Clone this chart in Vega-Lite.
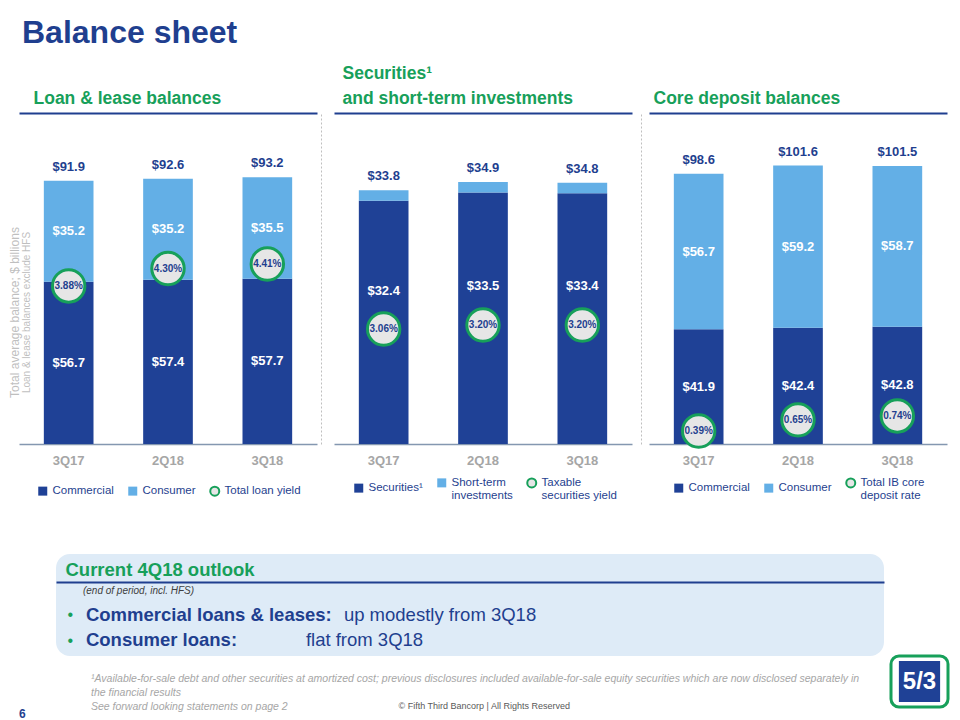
{
"$schema": "https://vega.github.io/schema/vega-lite/v6.json",
"background": "white",
"padding": {"left": 8, "top": 17, "right": 5, "bottom": 0},
"title": {"text": "Balance sheet", "anchor": "start", "fontSize": 32, "fontWeight": "bold", "color": "#1F3F8F", "offset": 14, "dx": 14, "font": "Liberation Sans"},
"config": {"font": "Liberation Sans", "view": {"stroke": null}, "axis": {"grid": false}},
"datasets": {
"loans": [
{"quarter": "3Q17", "segment": "Commercial", "ord": 1, "value": 56.7},
{"quarter": "3Q17", "segment": "Consumer", "ord": 2, "value": 35.2},
{"quarter": "2Q18", "segment": "Commercial", "ord": 1, "value": 57.4},
{"quarter": "2Q18", "segment": "Consumer", "ord": 2, "value": 35.2},
{"quarter": "3Q18", "segment": "Commercial", "ord": 1, "value": 57.7},
{"quarter": "3Q18", "segment": "Consumer", "ord": 2, "value": 35.5}
],
"loanYield": [
{"quarter": "3Q17", "series": "Total loan yield", "yield": 0.0388},
{"quarter": "2Q18", "series": "Total loan yield", "yield": 0.0430},
{"quarter": "3Q18", "series": "Total loan yield", "yield": 0.0441}
],
"secs": [
{"quarter": "3Q17", "segment": "Securities¹", "ord": 1, "value": 32.4},
{"quarter": "3Q17", "segment": "Short-term investments", "ord": 2, "value": 1.4},
{"quarter": "2Q18", "segment": "Securities¹", "ord": 1, "value": 33.5},
{"quarter": "2Q18", "segment": "Short-term investments", "ord": 2, "value": 1.4},
{"quarter": "3Q18", "segment": "Securities¹", "ord": 1, "value": 33.4},
{"quarter": "3Q18", "segment": "Short-term investments", "ord": 2, "value": 1.4}
],
"secYield": [
{"quarter": "3Q17", "series": "Taxable securities yield", "yield": 0.0306},
{"quarter": "2Q18", "series": "Taxable securities yield", "yield": 0.0320},
{"quarter": "3Q18", "series": "Taxable securities yield", "yield": 0.0320}
],
"deps": [
{"quarter": "3Q17", "segment": "Commercial", "ord": 1, "value": 41.9},
{"quarter": "3Q17", "segment": "Consumer", "ord": 2, "value": 56.7},
{"quarter": "2Q18", "segment": "Commercial", "ord": 1, "value": 42.4},
{"quarter": "2Q18", "segment": "Consumer", "ord": 2, "value": 59.2},
{"quarter": "3Q18", "segment": "Commercial", "ord": 1, "value": 42.8},
{"quarter": "3Q18", "segment": "Consumer", "ord": 2, "value": 58.7}
],
"depRate": [
{"quarter": "3Q17", "series": "Total IB core deposit rate", "yield": 0.0039},
{"quarter": "2Q18", "series": "Total IB core deposit rate", "yield": 0.0065},
{"quarter": "3Q18", "series": "Total IB core deposit rate", "yield": 0.0074}
],
"outlook": [
{"line": "sub", "part": "key", "text": "(end of period, incl. HFS)"},
{"line": "b1", "part": "key", "text": "Commercial loans & leases:"},
{"line": "b1", "part": "value", "text": "up modestly from 3Q18"},
{"line": "b2", "part": "key", "text": "Consumer loans:"},
{"line": "b2", "part": "value", "text": "flat from 3Q18"}
]
},
"vconcat": [
{
"hconcat": [
{
"width": 298, "height": 331,
"resolve": {"scale": {"y": "independent"}, "axis": {"x": "independent", "y": "independent"}},
"layer": [
{
"data": {"name": "loans"},
"encoding": {
"x": {"field": "quarter", "type": "nominal", "sort": ["3Q17", "2Q18", "3Q18"], "scale": {"type": "band", "paddingInner": 0.5, "paddingOuter": 0.25},
"axis": {"orient": "bottom", "title": null, "labelAngle": 0, "labelFontSize": 13, "labelFontWeight": "bold", "labelColor": "#A6A6A6", "labelPadding": 10, "ticks": false, "domain": true, "domainColor": "#8497B0", "domainWidth": 1.5}},
"y": {"field": "value", "type": "quantitative", "stack": "zero", "scale": {"domain": [0, 115.6], "nice": false},
"axis": {"title": "Loan & lease balances exclude HFS", "titleFontSize": 10, "titleFontWeight": "normal", "titleColor": "#BFBFBF", "titleX": 12, "titleY": 199, "labels": false, "ticks": false, "domain": false}},
"order": {"field": "ord", "type": "quantitative"},
"detail": {"field": "segment", "type": "nominal"}
},
"layer": [
{"mark": {"type": "bar"},
"encoding": {"color": {"field": "segment", "type": "nominal",
"scale": {"domain": ["Commercial", "Consumer", "Total loan yield"], "range": ["#1F4196", "#63AFE6", "#E6E6E6"]},
"legend": {"orient": "none", "legendX": 18, "legendY": 372, "direction": "horizontal", "title": null, "labelFontSize": 11.5, "labelColor": "#1F3F8F", "symbolSize": 81, "columnPadding": 10, "labelOffset": 4, "symbolStrokeWidth": 2,
"encode": {"symbols": {"update": {"shape": {"signal": "datum.value == 'Total loan yield' ? 'circle' : 'square'"}, "stroke": {"signal": "datum.value == 'Total loan yield' ? '#17A05A' : 'transparent'"}}}}}}}},
{"mark": {"type": "text", "color": "white", "fontSize": 13, "fontWeight": "bold"},
"encoding": {
"y": {"field": "value", "type": "quantitative", "stack": "zero", "bandPosition": 0.5, "scale": {"domain": [0, 115.6], "nice": false},
"axis": {"title": "Loan & lease balances exclude HFS", "titleFontSize": 10, "titleFontWeight": "normal", "titleColor": "#BFBFBF", "titleX": 12, "titleY": 199, "labels": false, "ticks": false, "domain": false}},
"text": {"field": "value", "type": "quantitative", "format": "$.1f"}}}
]
},
{
"data": {"name": "loanYield"},
"encoding": {
"x": {"field": "quarter", "type": "nominal", "sort": ["3Q17", "2Q18", "3Q18"], "scale": {"type": "band", "paddingInner": 0.5, "paddingOuter": 0.25},
"axis": {"orient": "top", "labels": false, "ticks": false, "domain": true, "domainColor": "#1F3F8F", "domainWidth": 2, "title": "Loan & lease balances", "titleFontSize": 17.5, "titleFontWeight": "bold", "titleColor": "#17A05A", "titleAnchor": "start", "titleAlign": "left", "titleX": 14, "titlePadding": 6}},
"y": {"field": "yield", "type": "quantitative", "scale": {"domain": [0.0007, 0.0805], "nice": false, "zero": false},
"axis": {"orient": "right", "labels": false, "ticks": false, "title": null, "domain": true, "domainColor": "#BFBFBF", "domainDash": [2, 2], "domainWidth": 1, "offset": 4}}
},
"layer": [
{"mark": {"type": "point", "filled": true, "size": 1050, "stroke": "#17A05A", "strokeWidth": 3, "opacity": 1}, "encoding": {"color": {"field": "series", "type": "nominal"}}},
{"mark": {"type": "text", "color": "#1F3F8F", "fontSize": 10, "fontWeight": "bold"}, "encoding": {"text": {"field": "yield", "type": "quantitative", "format": ".2%"}}}
]
},
{
"data": {"name": "loans"},
"mark": {"type": "text", "color": "#1F3F8F", "fontSize": 13, "fontWeight": "bold", "baseline": "bottom", "dy": -7},
"encoding": {
"x": {"field": "quarter", "type": "nominal", "sort": ["3Q17", "2Q18", "3Q18"], "scale": {"type": "band", "paddingInner": 0.5, "paddingOuter": 0.25}, "axis": null},
"y": {"aggregate": "sum", "field": "value", "type": "quantitative", "scale": {"domain": [0, 115.6], "nice": false},
"axis": {"title": "Total average balance; $ billions", "titleFontSize": 12, "titleFontWeight": "normal", "titleColor": "#BFBFBF", "titleX": 2, "titleY": 199, "labels": false, "ticks": false, "domain": false}},
"text": {"aggregate": "sum", "field": "value", "type": "quantitative", "format": "$.1f"}
}
}
]
},
{
"width": 298, "height": 331,
"resolve": {"scale": {"y": "independent"}, "axis": {"x": "independent", "y": "independent"}},
"layer": [
{
"data": {"name": "secs"},
"encoding": {
"x": {"field": "quarter", "type": "nominal", "sort": ["3Q17", "2Q18", "3Q18"], "scale": {"type": "band", "paddingInner": 0.5, "paddingOuter": 0.25},
"axis": {"orient": "bottom", "title": null, "labelAngle": 0, "labelFontSize": 13, "labelFontWeight": "bold", "labelColor": "#A6A6A6", "labelPadding": 10, "ticks": false, "domain": true, "domainColor": "#8497B0", "domainWidth": 1.5}},
"y": {"field": "value", "type": "quantitative", "stack": "zero", "scale": {"domain": [0, 44.1], "nice": false}, "axis": null},
"order": {"field": "ord", "type": "quantitative"},
"detail": {"field": "segment", "type": "nominal"}
},
"layer": [
{"mark": {"type": "bar"},
"encoding": {"color": {"field": "segment", "type": "nominal",
"scale": {"domain": ["Securities¹", "Short-term investments", "Taxable securities yield"], "range": ["#1F4196", "#63AFE6", "#E6E6E6"]},
"legend": {"orient": "none", "legendX": 19, "legendY": 364, "direction": "horizontal", "title": null, "labelFontSize": 11.5, "labelColor": "#1F3F8F", "symbolSize": 81, "columnPadding": 10, "labelOffset": 4, "symbolStrokeWidth": 2,
"labelExpr": "datum.label == 'Short-term investments' ? ['Short-term', 'investments'] : datum.label == 'Taxable securities yield' ? ['Taxable', 'securities yield'] : datum.label",
"encode": {"symbols": {"update": {"shape": {"signal": "datum.value == 'Taxable securities yield' ? 'circle' : 'square'"}, "stroke": {"signal": "datum.value == 'Taxable securities yield' ? '#17A05A' : 'transparent'"}}}}}}}},
{"transform": [{"filter": "datum.ord == 1"}],
"mark": {"type": "text", "color": "white", "fontSize": 13, "fontWeight": "bold"},
"encoding": {
"y": {"field": "value", "type": "quantitative", "stack": "zero", "bandPosition": 0.63, "scale": {"domain": [0, 44.1], "nice": false}, "axis": null},
"text": {"field": "value", "type": "quantitative", "format": "$.1f"}}}
]
},
{
"data": {"name": "secYield"},
"encoding": {
"x": {"field": "quarter", "type": "nominal", "sort": ["3Q17", "2Q18", "3Q18"], "scale": {"type": "band", "paddingInner": 0.5, "paddingOuter": 0.25},
"axis": {"orient": "top", "labels": false, "ticks": false, "domain": true, "domainColor": "#1F3F8F", "domainWidth": 2, "title": ["Securities¹", "and short-term investments"], "titleFontSize": 17.5, "titleFontWeight": "bold", "titleColor": "#17A05A", "titleAnchor": "start", "titleAlign": "left", "titleX": 8, "titlePadding": 6, "titleLineHeight": 25}},
"y": {"field": "yield", "type": "quantitative", "scale": {"domain": [-0.0096, 0.1061], "nice": false, "zero": false},
"axis": {"orient": "right", "labels": false, "ticks": false, "title": null, "domain": true, "domainColor": "#BFBFBF", "domainDash": [2, 2], "domainWidth": 1, "offset": 9}}
},
"layer": [
{"mark": {"type": "point", "filled": true, "size": 1050, "stroke": "#17A05A", "strokeWidth": 3, "opacity": 1}, "encoding": {"color": {"field": "series", "type": "nominal"}}},
{"mark": {"type": "text", "color": "#1F3F8F", "fontSize": 10, "fontWeight": "bold"}, "encoding": {"text": {"field": "yield", "type": "quantitative", "format": ".2%"}}}
]
},
{
"data": {"name": "secs"},
"mark": {"type": "text", "color": "#1F3F8F", "fontSize": 13, "fontWeight": "bold", "baseline": "bottom", "dy": -7},
"encoding": {
"x": {"field": "quarter", "type": "nominal", "sort": ["3Q17", "2Q18", "3Q18"], "scale": {"type": "band", "paddingInner": 0.5, "paddingOuter": 0.25}, "axis": null},
"y": {"aggregate": "sum", "field": "value", "type": "quantitative", "scale": {"domain": [0, 44.1], "nice": false}, "axis": null},
"text": {"aggregate": "sum", "field": "value", "type": "quantitative", "format": "$.1f"}
}
}
]
},
{
"width": 298, "height": 331,
"resolve": {"scale": {"y": "independent"}, "axis": {"x": "independent", "y": "independent"}},
"layer": [
{
"data": {"name": "deps"},
"encoding": {
"x": {"field": "quarter", "type": "nominal", "sort": ["3Q17", "2Q18", "3Q18"], "scale": {"type": "band", "paddingInner": 0.5, "paddingOuter": 0.25},
"axis": {"orient": "bottom", "title": null, "labelAngle": 0, "labelFontSize": 13, "labelFontWeight": "bold", "labelColor": "#A6A6A6", "labelPadding": 10, "ticks": false, "domain": true, "domainColor": "#8497B0", "domainWidth": 1.5}},
"y": {"field": "value", "type": "quantitative", "stack": "zero", "scale": {"domain": [0, 120.8], "nice": false}, "axis": null},
"order": {"field": "ord", "type": "quantitative"},
"detail": {"field": "segment", "type": "nominal"}
},
"layer": [
{"mark": {"type": "bar"},
"encoding": {"color": {"field": "segment", "type": "nominal",
"scale": {"domain": ["Commercial", "Consumer", "Total IB core deposit rate"], "range": ["#1F4196", "#63AFE6", "#E6E6E6"]},
"legend": {"orient": "none", "legendX": 24, "legendY": 364, "direction": "horizontal", "title": null, "labelFontSize": 11.5, "labelColor": "#1F3F8F", "symbolSize": 81, "columnPadding": 10, "labelOffset": 4, "symbolStrokeWidth": 2,
"labelExpr": "datum.label == 'Total IB core deposit rate' ? ['Total IB core', 'deposit rate'] : datum.label",
"encode": {"symbols": {"update": {"shape": {"signal": "datum.value == 'Total IB core deposit rate' ? 'circle' : 'square'"}, "stroke": {"signal": "datum.value == 'Total IB core deposit rate' ? '#17A05A' : 'transparent'"}}}}}}}},
{"mark": {"type": "text", "color": "white", "fontSize": 13, "fontWeight": "bold"},
"encoding": {
"y": {"field": "value", "type": "quantitative", "stack": "zero", "bandPosition": 0.5, "scale": {"domain": [0, 120.8], "nice": false}, "axis": null},
"text": {"field": "value", "type": "quantitative", "format": "$.1f"}}}
]
},
{
"data": {"name": "depRate"},
"encoding": {
"x": {"field": "quarter", "type": "nominal", "sort": ["3Q17", "2Q18", "3Q18"], "scale": {"type": "band", "paddingInner": 0.5, "paddingOuter": 0.25},
"axis": {"orient": "top", "labels": false, "ticks": false, "domain": true, "domainColor": "#1F3F8F", "domainWidth": 2, "title": "Core deposit balances", "titleFontSize": 17.5, "titleFontWeight": "bold", "titleColor": "#17A05A", "titleAnchor": "start", "titleAlign": "left", "titleX": 4, "titlePadding": 6}},
"y": {"field": "yield", "type": "quantitative", "scale": {"domain": [0.00087, 0.078], "nice": false, "zero": false}, "axis": null}
},
"layer": [
{"mark": {"type": "point", "filled": true, "size": 1050, "stroke": "#17A05A", "strokeWidth": 3, "opacity": 1}, "encoding": {"color": {"field": "series", "type": "nominal"}}},
{"mark": {"type": "text", "color": "#1F3F8F", "fontSize": 10, "fontWeight": "bold"}, "encoding": {"text": {"field": "yield", "type": "quantitative", "format": ".2%"}}}
]
},
{
"data": {"name": "deps"},
"mark": {"type": "text", "color": "#1F3F8F", "fontSize": 13, "fontWeight": "bold", "baseline": "bottom", "dy": -7},
"encoding": {
"x": {"field": "quarter", "type": "nominal", "sort": ["3Q17", "2Q18", "3Q18"], "scale": {"type": "band", "paddingInner": 0.5, "paddingOuter": 0.25}, "axis": null},
"y": {"aggregate": "sum", "field": "value", "type": "quantitative", "scale": {"domain": [0, 120.8], "nice": false}, "axis": null},
"text": {"aggregate": "sum", "field": "value", "type": "quantitative", "format": "$.1f"}
}
}
]
}
],
"spacing": 17,
"bounds": "flush",
"resolve": {"scale": {"color": "independent"}}
},
{
"hconcat": [
{
"width": 32, "height": 102,
"data": {"values": [{"t": ""}]},
"mark": {"type": "text"},
"encoding": {"text": {"field": "t"}},
"title": {"text": "6", "orient": "bottom", "anchor": "start", "fontSize": 12, "fontWeight": "bold", "color": "#1F3F8F", "offset": 53}
},
{
"width": 828, "height": 102,
"view": {"fill": "#DEEBF7", "stroke": null, "cornerRadius": 14},
"data": {"name": "outlook"},
"title": {"text": ["¹Available-for-sale debt and other securities at amortized cost; previous disclosures included available-for-sale equity securities which are now disclosed separately in", "the financial results", "See forward looking statements on page 2"], "orient": "bottom", "anchor": "start", "dx": 35, "offset": 18, "fontSize": 10.5, "fontStyle": "italic", "fontWeight": "normal", "color": "#A6A6A6", "lineHeight": 14},
"encoding": {
"x": {"field": "part", "type": "nominal", "scale": {"type": "point", "domain": ["key", "value", "end"], "padding": 0.605, "align": 0.096},
"axis": {"orient": "top", "offset": -28, "labels": false, "ticks": false, "domain": true, "domainColor": "#1F3F8F", "domainWidth": 2, "title": "Current 4Q18 outlook", "titleFontSize": 18.5, "titleFontWeight": "bold", "titleColor": "#17A05A", "titleAnchor": "start", "titleAlign": "left", "titleX": 9, "titlePadding": 3}},
"y": {"field": "line", "type": "nominal", "scale": {"type": "point", "domain": ["sub", "b1", "b2"], "padding": 1, "align": 0.69},
"axis": {"orient": "left", "title": null, "ticks": false, "domain": false, "labelExpr": "datum.value == 'sub' ? '' : '•'", "labelColor": "#17A05A", "labelFontSize": 16, "labelAlign": "left", "labelPadding": -11}}
},
"layer": [
{"transform": [{"filter": "datum.line == 'sub'"}], "mark": {"type": "text", "align": "left", "fontSize": 10, "fontStyle": "italic", "color": "#404040", "dx": -3, "dy": 2}, "encoding": {"text": {"field": "text"}}},
{"transform": [{"filter": "datum.line != 'sub' && datum.part == 'key'"}], "mark": {"type": "text", "align": "left", "fontSize": 18.5, "fontWeight": "bold", "color": "#1F3F8F"}, "encoding": {"text": {"field": "text"}}},
{"transform": [{"filter": "datum.line == 'b1' && datum.part == 'value'"}], "mark": {"type": "text", "align": "left", "fontSize": 18.5, "color": "#1F3F8F"}, "encoding": {"text": {"field": "text"}}},
{"transform": [{"filter": "datum.line == 'b2' && datum.part == 'value'"}], "mark": {"type": "text", "align": "left", "fontSize": 18.5, "color": "#1F3F8F", "dx": -38}, "encoding": {"text": {"field": "text"}}}
]
},
{
"vconcat": [
{"width": 57, "height": 1, "data": {"values": [{"t": ""}]}, "mark": {"type": "text"}, "encoding": {"text": {"field": "t"}}},
{"width": 57, "height": 51,
"view": {"fill": "white", "stroke": "#17A05A", "strokeWidth": 3, "cornerRadius": 8},
"data": {"values": [{"brand": "5/3"}]},
"layer": [
{"mark": {"type": "square", "size": 1700, "color": "#1F4196", "opacity": 1}, "encoding": {}},
{"mark": {"type": "text", "color": "white", "fontSize": 24, "fontWeight": "bold"}, "encoding": {"text": {"field": "brand"}}}
]}
],
"spacing": 94
}
],
"spacing": 5,
"title": {"text": "© Fifth Third Bancorp | All Rights Reserved", "orient": "bottom", "anchor": "middle", "offset": -18, "fontSize": 9, "fontWeight": "normal", "color": "#595959"}
}
],
"spacing": 46
}
